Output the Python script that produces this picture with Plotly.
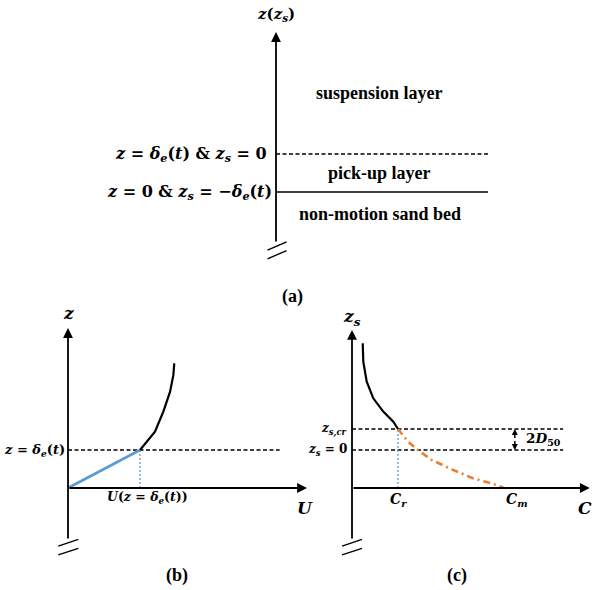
import plotly.graph_objects as go

# ---------------------------------------------------------------------------
# Schematic values (dimensionless units)
# Panel (a): layer boundaries, z measured from the non-moving bed, delta_e = 1
LAYER_LEVELS_A = [1.0, 0.0]          # z = delta_e(t)  (dashed),  z = 0 (solid)
LAYER_STYLE_A = ["dash", "solid"]
LAYER_NAMES_A = ["suspension layer", "pick-up layer", "non-motion sand bed"]
LAYER_NAME_Z_A = [2.6, 0.5, -0.58]

# Panel (b): velocity profile U(z); linear inside the pick-up layer, log-type above
U_LIN = [0.0, 1.0]
Z_LIN = [0.0, 1.0]
U_LOG = [1.0, 1.208, 1.324, 1.417, 1.463, 1.476]
Z_LOG = [1.0, 1.48, 2.01, 2.53, 2.97, 3.28]
DELTA_E = 1.0
U_DELTA = 1.0

# Panel (c): concentration profile C(z_s)
C_SUSP = [0.233, 0.246, 0.320, 0.463, 0.680, 0.898, 1.0]
ZS_SUSP = [2.81, 2.32, 1.80, 1.36, 1.01, 0.745, 0.553]
C_PICK = [1.0, 1.22, 1.41, 1.73, 2.17, 2.64, 3.07, 3.30]
ZS_PICK = [0.553, 0.22, 0.02, -0.26, -0.51, -0.75, -0.89, -1.0]
ZS_CR = 0.553          # z_s,cr = 2 D50 above z_s = 0
C_R = 1.0
C_M = 3.30
ZS_BED = -1.0          # z_s = -delta_e(t) at the bed

# ---------------------------------------------------------------------------
W, H = 593, 590
BLACK = "#000000"
BLUE = "#5B9BD5"
ORANGE = "#ED7D31"
TEXT_FONT = "Liberation Serif"   # plain words and panel tags
MATH_FONT = "DejaVu Serif"       # symbols and equations


def xrange_for(origin_px, px_per_unit):
    return [(0 - origin_px) / px_per_unit, (W - origin_px) / px_per_unit]


def yrange_for(origin_px, px_per_unit):
    return [(origin_px - H) / px_per_unit, origin_px / px_per_unit]


# each panel gets its own pair of axes spanning the whole canvas
PANELS = {
    "a": dict(x="x", y="y", xr=xrange_for(276, 212), yr=yrange_for(192, 38)),
    "b": dict(x="x2", y="y2", xr=xrange_for(68, 72), yr=yrange_for(488, 38)),
    "c": dict(x="x3", y="y3", xr=xrange_for(352, 46), yr=yrange_for(450, 38)),
}

fig = go.Figure()
annotations = []


def line(panel, xs, ys, color=BLACK, width=1.8, dash="solid"):
    p = PANELS[panel]
    fig.add_trace(go.Scatter(x=xs, y=ys, mode="lines", xaxis=p["x"], yaxis=p["y"],
                             line=dict(color=color, width=width, dash=dash),
                             hoverinfo="skip", showlegend=False))


def arrow(panel, x0, y0, x1, y1, size=1.1, width=1.8):
    p = PANELS[panel]
    annotations.append(dict(x=x1, y=y1, ax=x0, ay=y0, xref=p["x"], yref=p["y"],
                            axref=p["x"], ayref=p["y"], text="", showarrow=True,
                            arrowhead=2, arrowsize=size, arrowwidth=width,
                            arrowcolor=BLACK))


def label(panel, x, y, text, size=14, font=MATH_FONT, xanchor="center",
          yanchor="middle", xshift=0, yshift=0):
    p = PANELS[panel]
    annotations.append(dict(x=x, y=y, xref=p["x"], yref=p["y"], text=text,
                            showarrow=False, xanchor=xanchor, yanchor=yanchor,
                            xshift=xshift, yshift=yshift,
                            font=dict(family=font, size=size, color=BLACK)))


def axis_break(panel, x0, x1, ys):
    for ya, yb in ys:
        line(panel, [x0, x1], [ya, yb], width=1.4)


DASH = "4px,2.5px"
DELTA = "<i>δ</i><sub><i>e</i></sub>(<i>t</i>)"
ZS = "<i>z</i><sub><i>s</i></sub>"

# ---------------- panel (a) ----------------
arrow("a", 0, -1.34, 0, 4.21)
axis_break("a", -0.04, 0.05, [(-1.53, -1.31), (-1.76, -1.54)])
for lvl, sty in zip(LAYER_LEVELS_A, LAYER_STYLE_A):
    line("a", [0, 1], [lvl, lvl], width=1.4, dash=DASH if sty == "dash" else "solid")
for name, zc in zip(LAYER_NAMES_A, LAYER_NAME_Z_A):
    label("a", 0.49, zc, f"<b>{name}</b>", size=18, font=TEXT_FONT)
label("a", 0, 4.66, f"<b><i>z</i>({ZS})</b>", size=15)
label("a", 0, LAYER_LEVELS_A[0],
      f"<b><i>z</i> = {DELTA} &amp; {ZS} = 0</b>",
      size=16, xanchor="right", xshift=-7)
label("a", 0, LAYER_LEVELS_A[1],
      f"<b><i>z</i> = 0 &amp; {ZS} = −{DELTA}</b>",
      size=16, xanchor="right", xshift=-2)
label("a", 0.08, -2.76, "<b>(a)</b>", size=18, font=TEXT_FONT)

# ---------------- panel (b) ----------------
arrow("b", 0, -1.37, 0, 4.21)
arrow("b", 0, 0, 3.32, 0)
axis_break("b", -0.135, 0.143, [(-1.53, -1.35), (-1.76, -1.59)])
line("b", [0, 2.94], [DELTA_E, DELTA_E], width=1.4, dash=DASH)
line("b", [U_DELTA, U_DELTA], [0, DELTA_E], color=BLUE, width=1.3, dash="2px,2px")
line("b", U_LIN, Z_LIN, color=BLUE, width=2.6)
line("b", U_LOG, Z_LOG, width=2.2)
label("b", 0, 4.6, "<b><i>z</i></b>", size=17)
label("b", 3.29, -0.53, "<b><i>U</i></b>", size=17)
label("b", 0, DELTA_E, f"<b><i>z</i> = {DELTA}</b>",
      size=13, xanchor="right", xshift=-1)
label("b", 1.1, -0.24, f"<b><i>U</i>(<i>z</i> = {DELTA})</b>", size=12.5)
label("b", 1.51, -2.29, "<b>(b)</b>", size=18, font=TEXT_FONT)

# ---------------- panel (c) ----------------
arrow("c", 0, -2.37, 0, 3.16)
arrow("c", 0, ZS_BED, 5.17, ZS_BED)
axis_break("c", -0.217, 0.217, [(-2.53, -2.35), (-2.76, -2.59)])
line("c", [0, 4.59], [ZS_CR, ZS_CR], width=1.4, dash=DASH)
line("c", [0, 4.59], [0, 0], width=1.4, dash=DASH)
line("c", [C_R, C_R], [ZS_BED, ZS_CR], color=BLUE, width=1.3, dash="2px,2px")
line("c", C_PICK, ZS_PICK, color=ORANGE, width=2.6, dash="7px,4px,2px,4px")
line("c", C_SUSP, ZS_SUSP, width=2.2)
arrow("c", 3.54, ZS_CR / 2, 3.54, ZS_CR, size=0.8, width=1.5)
arrow("c", 3.54, ZS_CR / 2, 3.54, 0, size=0.8, width=1.5)
label("c", 0, 3.5, f"<b>{ZS}</b>", size=17)
label("c", 5.06, -1.53, "<b><i>C</i></b>", size=17)
label("c", 0, ZS_CR, "<b><i>z</i><sub><i>s,cr</i></sub></b>", size=12,
      xanchor="right", xshift=-3)
label("c", 0, 0, f"<b>{ZS} = 0</b>", size=12, xanchor="right", xshift=-3)
label("c", C_R, -1.32, "<b><i>C</i><sub><i>r</i></sub></b>", size=14)
label("c", 3.59, -1.32, "<b><i>C</i><sub><i>m</i></sub></b>", size=14)
label("c", 3.74, ZS_CR / 2, "<b>2<i>D</i><sub>50</sub></b>", size=13.5, xanchor="left")
label("c", 2.28, -3.29, "<b>(c)</b>", size=18, font=TEXT_FONT)

hidden = dict(visible=False, showgrid=False, zeroline=False, fixedrange=True,
              domain=[0, 1])
layout_axes = {}
for i, key in enumerate(["a", "b", "c"]):
    p = PANELS[key]
    suffix = "" if i == 0 else str(i + 1)
    layout_axes["xaxis" + suffix] = dict(hidden, range=p["xr"], anchor=p["y"])
    layout_axes["yaxis" + suffix] = dict(hidden, range=p["yr"], anchor=p["x"])

fig.update_layout(
    width=W, height=H,
    margin=dict(l=0, r=0, t=0, b=0),
    paper_bgcolor="white",
    plot_bgcolor="rgba(0,0,0,0)",
    showlegend=False,
    annotations=annotations,
    **layout_axes,
)

fig.write_html("out.html")
